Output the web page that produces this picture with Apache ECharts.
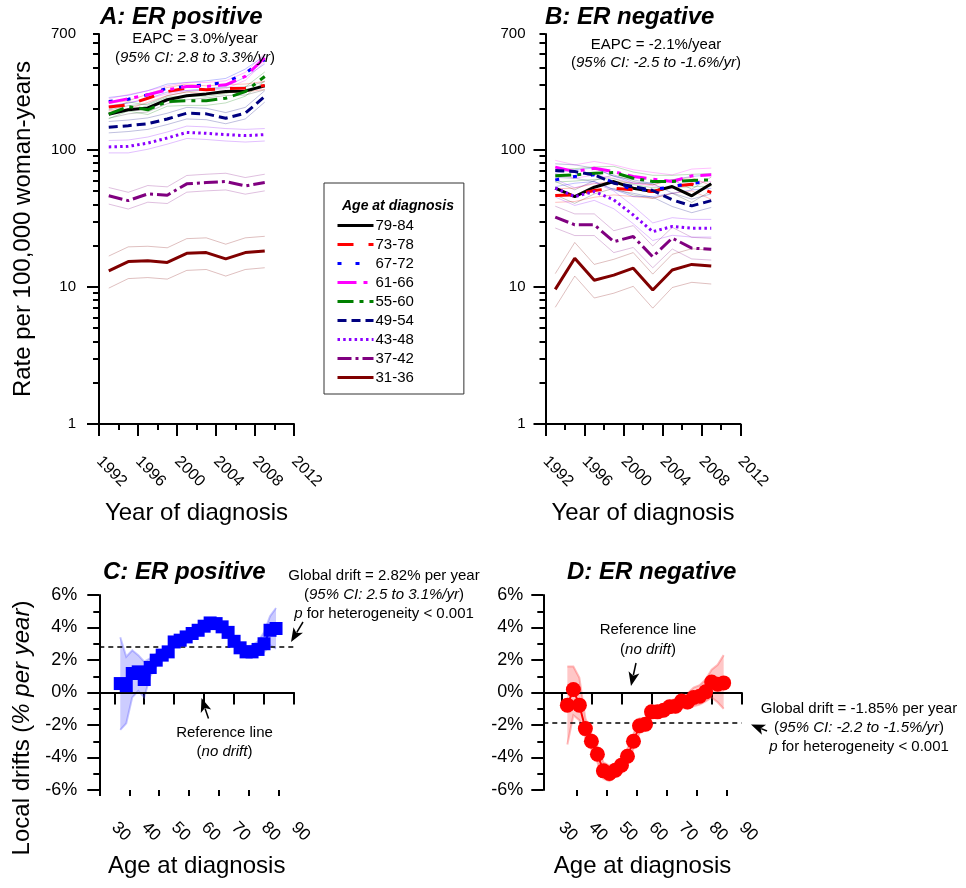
<!DOCTYPE html>
<html><head><meta charset="utf-8">
<script src="https://cdn.jsdelivr.net/npm/echarts@6/dist/echarts.min.js"></script>
<style>html,body{margin:0;padding:0;background:#fff}#c{width:966px;height:888px}</style>
</head><body><div id="c"></div>
<script>
const FONT = 'Liberation Sans, Arial, Helvetica, sans-serif';

// ---------- Panels A & B: incidence by age group (rate per 100,000) ----------
const years = [1993, 1995, 1997, 1999, 2001, 2003, 2005, 2007, 2009];
const ageGroups = ['79-84', '73-78', '67-72', '61-66', '55-60', '49-54', '43-48', '37-42', '31-36'];
const yTickLabels = [1, 10, 100, 700];
const yMajorTicks = [1, 10, 100];
const yMinorTicks = [2, 3, 4, 5, 6, 7, 8, 9, 20, 30, 40, 50, 60, 70, 80, 90, 200, 300, 400, 500, 600, 700];

// ER positive
const A_79_84 = [182, 196, 202, 232, 248, 256, 266, 269, 293];
const A_73_78 = [205, 213, 238, 266, 282, 274, 279, 282, 295];
const A_67_72 = [225, 234, 252, 282, 290, 298, 310, 363, 454];
const A_61_66 = [221, 236, 252, 274, 290, 290, 298, 343, 470];
const A_55_60 = [182, 207, 196, 225, 228, 228, 238, 266, 343];
const A_49_54 = [146, 150, 155, 168, 185, 183, 170, 185, 245];
const A_43_48 = [105, 106, 112, 122, 134, 132, 129, 127, 129];
const A_37_42 = [46.2, 42.6, 47.7, 46.7, 56.5, 57.7, 58.7, 54.6, 57.7];
const A_31_36 = [13.1, 15.3, 15.5, 15.1, 17.6, 17.8, 16.0, 17.8, 18.3];
const A_79_84_hi = [195, 210, 216, 248, 265, 274, 285, 288, 314];
const A_79_84_lo = [170, 183, 189, 217, 232, 239, 249, 251, 274];
const A_73_78_hi = [219, 228, 255, 285, 302, 293, 299, 302, 316];
const A_73_78_lo = [192, 199, 222, 249, 264, 256, 261, 264, 276];
const A_67_72_hi = [241, 250, 270, 302, 310, 319, 332, 388, 486];
const A_67_72_lo = [210, 219, 236, 264, 271, 279, 290, 339, 424];
const A_61_66_hi = [236, 253, 270, 293, 310, 310, 319, 367, 503];
const A_61_66_lo = [207, 221, 236, 256, 271, 271, 279, 321, 439];
const A_55_60_hi = [197, 224, 212, 243, 246, 246, 257, 287, 370];
const A_55_60_lo = [169, 192, 181, 208, 211, 211, 220, 246, 318];
const A_49_54_hi = [161, 165, 171, 185, 204, 201, 187, 204, 270];
const A_49_54_lo = [133, 136, 141, 153, 168, 166, 155, 168, 223];
const A_43_48_hi = [117, 118, 124, 135, 149, 147, 143, 141, 143];
const A_43_48_lo = [95, 95, 101, 110, 121, 119, 116, 114, 116];
const A_37_42_hi = [53.1, 49.0, 54.9, 53.7, 65.0, 66.4, 67.5, 62.8, 66.4];
const A_37_42_lo = [40.2, 37.0, 41.5, 40.6, 49.1, 50.2, 51.0, 47.5, 50.2];
const A_31_36_hi = [16.8, 19.6, 19.8, 19.3, 22.5, 22.8, 20.5, 22.8, 23.4];
const A_31_36_lo = [9.8, 11.5, 11.7, 11.4, 13.2, 13.4, 12.0, 13.4, 13.8];

// ER negative
const B_79_84 = [52.5, 45.6, 53.4, 58.7, 52.5, 49.6, 54.0, 46.2, 56.5];
const B_73_78 = [46.4, 47.0, 50.5, 52.5, 51.1, 49.6, 54.0, 56.2, 48.8];
const B_67_72 = [60.4, 63.9, 65.7, 57.7, 51.1, 51.1, 54.0, 57.1, 58.7];
const B_61_66 = [74.8, 69.4, 73.5, 69.4, 63.9, 61.1, 58.7, 64.6, 65.7];
const B_55_60 = [64.6, 65.7, 67.6, 68.3, 62.1, 58.7, 58.7, 59.7, 60.4];
const B_49_54 = [70.6, 69.4, 65.7, 57.1, 54.0, 50.5, 43.2, 39.0, 42.6];
const B_43_48 = [52.5, 45.6, 49.6, 43.2, 33.5, 25.3, 27.6, 26.8, 26.8];
const B_37_42 = [32.3, 28.4, 28.4, 21.4, 23.3, 16.6, 22.7, 19.2, 18.8];
const B_31_36 = [9.6, 16.2, 11.2, 12.2, 13.7, 9.5, 13.3, 14.6, 14.2];
const B_79_84_hi = [58.8, 51.1, 59.8, 65.7, 58.8, 55.6, 60.5, 51.7, 63.3];
const B_79_84_lo = [46.9, 40.7, 47.7, 52.4, 46.9, 44.3, 48.2, 41.3, 50.4];
const B_73_78_hi = [52.0, 52.6, 56.6, 58.8, 57.2, 55.6, 60.5, 62.9, 54.7];
const B_73_78_lo = [41.4, 42.0, 45.1, 46.9, 45.6, 44.3, 48.2, 50.2, 43.6];
const B_67_72_hi = [67.6, 71.6, 73.6, 64.6, 57.2, 57.2, 60.5, 64.0, 65.7];
const B_67_72_lo = [53.9, 57.1, 58.7, 51.5, 45.6, 45.6, 48.2, 51.0, 52.4];
const B_61_66_hi = [83.8, 77.7, 82.3, 77.7, 71.6, 68.4, 65.7, 72.4, 73.6];
const B_61_66_lo = [66.8, 62.0, 65.6, 62.0, 57.1, 54.6, 52.4, 57.7, 58.7];
const B_55_60_hi = [71.7, 72.9, 75.0, 75.8, 68.9, 65.2, 65.2, 66.3, 67.0];
const B_55_60_lo = [58.2, 59.2, 60.9, 61.5, 55.9, 52.9, 52.9, 53.8, 54.4];
const B_49_54_hi = [79.1, 77.7, 73.6, 64.0, 60.5, 56.6, 48.4, 43.7, 47.7];
const B_49_54_lo = [63.0, 62.0, 58.7, 51.0, 48.2, 45.1, 38.6, 34.8, 38.0];
const B_43_48_hi = [60.9, 52.9, 57.5, 50.1, 38.9, 29.3, 32.0, 31.1, 31.1];
const B_43_48_lo = [45.3, 39.3, 42.8, 37.2, 28.9, 21.8, 23.8, 23.1, 23.1];
const B_37_42_hi = [38.8, 34.1, 34.1, 25.7, 28.0, 19.9, 27.2, 23.0, 22.6];
const B_37_42_lo = [26.9, 23.7, 23.7, 17.8, 19.4, 13.8, 18.9, 16.0, 15.7];
const B_31_36_hi = [12.5, 21.1, 14.6, 15.9, 17.8, 12.4, 17.3, 19.0, 18.5];
const B_31_36_lo = [7.1, 12.0, 8.3, 9.0, 10.1, 7.0, 9.9, 10.8, 10.5];

// ---------- Panels C & D: local drifts by age ----------
const ages = [32, 34, 36, 38, 40, 42, 44, 46, 48, 50, 52, 54, 56, 58, 60, 62, 64, 66, 68, 70, 72, 74, 76, 78, 80, 82, 84];
const C_drift = [0.55, 0.42, 1.17, 1.27, 0.8, 1.54, 1.99, 2.3, 2.5, 3.11, 3.22, 3.42, 3.63, 3.83, 4.08, 4.28, 4.24, 4.04, 3.7, 3.15, 2.75, 2.5, 2.5, 2.65, 3.0, 3.83, 3.94];
const C_hi = [3.4, 2.2, 2.6, 2.3, 1.9, 2.1, 2.4, 2.6, 2.8, 3.4, 3.5, 3.7, 3.9, 4.1, 4.35, 4.55, 4.5, 4.3, 4.0, 3.45, 3.05, 2.85, 2.9, 3.15, 3.7, 4.7, 5.2];
const C_lo = [-2.3, -1.9, -0.3, 0.1, -0.3, 1.0, 1.6, 2.0, 2.2, 2.8, 2.95, 3.15, 3.35, 3.55, 3.8, 4.0, 3.95, 3.75, 3.4, 2.9, 2.45, 2.2, 2.15, 2.3, 2.5, 2.9, 2.7];
const D_drift = [-0.78, 0.18, -0.78, -2.22, -3.0, -3.8, -4.82, -4.98, -4.78, -4.47, -3.92, -3.0, -2.05, -1.95, -1.19, -1.19, -1.09, -0.88, -0.84, -0.52, -0.58, -0.31, -0.23, 0.04, 0.65, 0.51, 0.59];
const D_hi = [1.6, 1.6, 0.9, -1.6, -2.5, -3.3, -4.3, -4.5, -4.35, -4.0, -3.45, -2.55, -1.6, -1.55, -0.85, -0.85, -0.7, -0.5, -0.4, -0.05, -0.05, 0.3, 0.45, 0.8, 1.4, 1.7, 2.3];
const D_lo = [-3.2, -1.4, -1.7, -2.8, -3.5, -4.3, -5.3, -5.45, -5.2, -4.95, -4.4, -3.45, -2.5, -2.35, -1.55, -1.55, -1.45, -1.25, -1.25, -0.95, -1.0, -0.85, -0.75, -0.55, -0.3, -0.6, -1.0];
const C_global = 2.82;
const D_global = -1.85;
const driftTicks = [30, 40, 50, 60, 70, 80, 90];
const driftMinorTicksC = [25, 35, 45, 55, 65, 75, 85];
const driftMinorTicksD = [35, 45, 55, 65, 75, 85];

// ---------- styles ----------
const groupStyle = {
  '79-84': { color: '#000000', dash: 'solid' },
  '73-78': { color: '#ff0000', dash: [16, 15] },
  '67-72': { color: '#0000ff', dash: [4, 14] },
  '61-66': { color: '#ff00ff', dash: [19, 7, 4, 7] },
  '55-60': { color: '#008000', dash: [16, 6, 4, 6] },
  '49-54': { color: '#000080', dash: [9, 5] },
  '43-48': { color: '#8b00ff', dash: [2.5, 3.2] },
  '37-42': { color: '#800080', dash: [14, 4, 3, 4] },
  '31-36': { color: '#800000', dash: 'solid' }
};
const ciAlpha = { '79-84': 'rgba(0,0,0,0.22)', '73-78': 'rgba(255,0,0,0.25)', '67-72': 'rgba(0,0,255,0.25)',
  '61-66': 'rgba(255,0,255,0.25)', '55-60': 'rgba(0,128,0,0.25)', '49-54': 'rgba(0,0,128,0.25)',
  '43-48': 'rgba(139,0,255,0.25)', '37-42': 'rgba(128,0,128,0.25)', '31-36': 'rgba(128,0,0,0.25)' };

const A_main = { '79-84': A_79_84, '73-78': A_73_78, '67-72': A_67_72, '61-66': A_61_66, '55-60': A_55_60, '49-54': A_49_54, '43-48': A_43_48, '37-42': A_37_42, '31-36': A_31_36 };
const A_hi = { '79-84': A_79_84_hi, '73-78': A_73_78_hi, '67-72': A_67_72_hi, '61-66': A_61_66_hi, '55-60': A_55_60_hi, '49-54': A_49_54_hi, '43-48': A_43_48_hi, '37-42': A_37_42_hi, '31-36': A_31_36_hi };
const A_lo = { '79-84': A_79_84_lo, '73-78': A_73_78_lo, '67-72': A_67_72_lo, '61-66': A_61_66_lo, '55-60': A_55_60_lo, '49-54': A_49_54_lo, '43-48': A_43_48_lo, '37-42': A_37_42_lo, '31-36': A_31_36_lo };
const B_main = { '79-84': B_79_84, '73-78': B_73_78, '67-72': B_67_72, '61-66': B_61_66, '55-60': B_55_60, '49-54': B_49_54, '43-48': B_43_48, '37-42': B_37_42, '31-36': B_31_36 };
const B_hi = { '79-84': B_79_84_hi, '73-78': B_73_78_hi, '67-72': B_67_72_hi, '61-66': B_61_66_hi, '55-60': B_55_60_hi, '49-54': B_49_54_hi, '43-48': B_43_48_hi, '37-42': B_37_42_hi, '31-36': B_31_36_hi };
const B_lo = { '79-84': B_79_84_lo, '73-78': B_73_78_lo, '67-72': B_67_72_lo, '61-66': B_61_66_lo, '55-60': B_55_60_lo, '49-54': B_49_54_lo, '43-48': B_43_48_lo, '37-42': B_37_42_lo, '31-36': B_31_36_lo };

const LOG_MAX = Math.log10(700);
const lg = v => Math.log10(v);
const toPairs = vals => years.map((y, i) => [y, lg(vals[i])]);

const series = [];
function addPanel(xi, yi, main, hi, lo, tag) {
  ageGroups.forEach(g => {
    [hi[g], lo[g]].forEach((arr, k) => series.push({
      type: 'line', name: tag + g + (k ? ' lo' : ' hi'), xAxisIndex: xi, yAxisIndex: yi,
      data: toPairs(arr), symbol: 'none', silent: true, z: 1,
      lineStyle: { color: ciAlpha[g], width: 1 }
    }));
  });
  ageGroups.forEach(g => series.push({
    type: 'line', name: g, xAxisIndex: xi, yAxisIndex: yi, data: toPairs(main[g]),
    symbol: 'none', z: 3, itemStyle: { color: groupStyle[g].color },
    lineStyle: { color: groupStyle[g].color, width: 3, type: groupStyle[g].dash, cap: 'butt' }
  }));
}
addPanel(0, 0, A_main, A_hi, A_lo, 'A ');
addPanel(1, 1, B_main, B_hi, B_lo, 'B ');

function bandSeries(xi, yi, lo, hi, fill, edge) {
  return {
    type: 'custom', xAxisIndex: xi, yAxisIndex: yi, silent: true, z: 1,
    data: ages.map((a, i) => [a, lo[i], hi[i]]), encode: { x: 0, y: [1, 2] },
    renderItem: function (params, api) {
      if (params.dataIndex !== 0) return null;
      const up = ages.map((a, i) => api.coord([a, hi[i]]));
      const dn = ages.map((a, i) => api.coord([a, lo[i]]));
      return { type: 'group', children: [
        { type: 'polygon', shape: { points: up.concat(dn.slice().reverse()) }, style: { fill: fill, stroke: null } },
        { type: 'polyline', shape: { points: up }, style: { stroke: edge, lineWidth: 2, fill: null } },
        { type: 'polyline', shape: { points: dn }, style: { stroke: edge, lineWidth: 2, fill: null } }
      ] };
    }
  };
}
function refLines(g) {
  return { silent: true, symbol: ['none', 'none'], label: { show: false }, z: 2,
    data: [
      { yAxis: 0, lineStyle: { color: '#000', width: 2, type: 'solid' } },
      { yAxis: g, lineStyle: { color: '#000', width: 1.5, type: [5, 4] } }
    ] };
}
series.push(bandSeries(2, 2, C_lo, C_hi, 'rgba(0,0,255,0.2)', 'rgba(90,90,255,0.35)'));
series.push({ type: 'line', name: 'C drift', xAxisIndex: 2, yAxisIndex: 2, z: 5,
  data: ages.map((a, i) => [a, C_drift[i]]), symbol: 'rect', symbolSize: 13, showSymbol: true,
  itemStyle: { color: '#0000ff' }, lineStyle: { color: '#0000ff', width: 2 }, markLine: refLines(C_global) });
series.push(bandSeries(3, 3, D_lo, D_hi, 'rgba(255,0,0,0.22)', 'rgba(255,80,80,0.38)'));
series.push({ type: 'line', name: 'D drift', xAxisIndex: 3, yAxisIndex: 3, z: 5,
  data: ages.map((a, i) => [a, D_drift[i]]), symbol: 'circle', symbolSize: 15, showSymbol: true,
  itemStyle: { color: '#ff0000' }, lineStyle: { color: '#ff0000', width: 2 }, markLine: refLines(D_global) });

// ---------- axes ----------
const axLine = { lineStyle: { color: '#000', width: 2 } };
const tickStyle = { color: '#000', width: 2 };
const nameStyle = { fontSize: 24, fontFamily: FONT, color: '#000' };
function yearAxis(gi, name) {
  return { gridIndex: gi, type: 'value', min: 1992, max: 2012, interval: 4,
    axisLine: axLine, axisTick: { length: 12, lineStyle: tickStyle },
    minorTick: { show: true, splitNumber: 2, length: 6, lineStyle: tickStyle },
    splitLine: { show: false }, minorSplitLine: { show: false },
    axisLabel: { rotate: -45, margin: 35, fontSize: 16, fontFamily: FONT, color: '#000', formatter: v => String(v) },
    name: name, nameLocation: 'middle', nameGap: 77, nameTextStyle: nameStyle };
}
function rateAxis(gi, name, margin) {
  return { gridIndex: gi, type: 'value', min: 0, max: LOG_MAX, position: 'left',
    axisLine: axLine, axisTick: { length: 12, lineStyle: tickStyle, customValues: yMajorTicks.map(lg) },
    splitLine: { show: false },
    axisLabel: { customValues: yTickLabels.map(lg), margin: margin, fontSize: 15, fontFamily: FONT, color: '#000',
      formatter: v => String(Math.round(Math.pow(10, v))) },
    name: name, nameLocation: 'middle', nameGap: 64, nameTextStyle: nameStyle };
}
function rateMinorAxis(gi) {
  return { gridIndex: gi, type: 'value', min: 0, max: LOG_MAX, position: 'left', offset: 0,
    axisLine: { show: false }, axisLabel: { show: false }, splitLine: { show: false },
    axisTick: { length: 6, lineStyle: tickStyle, customValues: yMinorTicks.map(lg) } };
}
function ageAxis(gi, min, name) {
  return { gridIndex: gi, type: 'value', min: min, max: 90,
    axisLine: axLine, axisTick: { length: 12, lineStyle: tickStyle, customValues: driftTicks },
    splitLine: { show: false },
    axisLabel: { customValues: driftTicks, rotate: -45, margin: 35, fontSize: 17, fontFamily: FONT, color: '#000' },
    name: name, nameLocation: 'middle', nameGap: 64, nameTextStyle: nameStyle };
}
function ageMinorAxis(gi, min, ticks) {
  return { gridIndex: gi, type: 'value', min: min, max: 90, position: 'bottom', offset: 0,
    axisLine: { show: false }, axisLabel: { show: false }, splitLine: { show: false },
    axisTick: { length: 6, lineStyle: tickStyle, customValues: ticks } };
}
function driftAxis(gi, margin) {
  return { gridIndex: gi, type: 'value', min: -6, max: 6, interval: 2,
    axisLine: axLine, axisTick: { length: 12, lineStyle: tickStyle },
    minorTick: { show: true, splitNumber: 2, length: 6, lineStyle: tickStyle },
    splitLine: { show: false }, minorSplitLine: { show: false },
    axisLabel: { margin: margin, fontSize: 18, fontFamily: FONT, color: '#000', formatter: '{value}%' } };
}

// ---------- annotations ----------
const rich = fs => ({
  n: { fontSize: fs, fontFamily: FONT, fill: '#000', color: '#000' },
  i: { fontSize: fs, fontFamily: FONT, fill: '#000', color: '#000', fontStyle: 'italic' },
  t: { fontSize: 24, fontFamily: FONT, fill: '#000', color: '#000', fontStyle: 'italic', fontWeight: 'bold' },
  h: { fontSize: 14, fontFamily: FONT, fill: '#000', color: '#000', fontStyle: 'italic', fontWeight: 'bold' }
});
function txt(x, y, text, align, fs, rot) {
  return { type: 'text', x: x, y: y, rotation: rot || 0, silent: true, z: 10,
    style: { text: text, fontSize: fs || 15, fontFamily: FONT, fill: '#000', align: align || 'center', verticalAlign: 'middle', rich: rich(fs || 15) } };
}
function arrow(x1, y1, x2, y2) {
  const ang = Math.atan2(y2 - y1, x2 - x1), L = 14, W = 5.5;
  const c = Math.cos(ang), s = Math.sin(ang);
  const bx = x2 - L * c, by = y2 - L * s;
  const px = -s * W, py = c * W;
  return [
    { type: 'line', silent: true, z: 10, shape: { x1: x1, y1: y1, x2: bx + 3 * c, y2: by + 3 * s }, style: { stroke: '#000', lineWidth: 1.5 } },
    { type: 'polygon', silent: true, z: 10, shape: { points: [[x2, y2], [bx + px, by + py], [bx + 0.25 * L * c, by + 0.25 * L * s], [bx - px, by - py]] }, style: { fill: '#000' } }
  ];
}
const graphics = [
  txt(100, 17, '{t|A: ER positive}', 'left'),
  txt(545, 17, '{t|B: ER negative}', 'left'),
  txt(103, 572, '{t|C: ER positive}', 'left'),
  txt(567, 572, '{t|D: ER negative}', 'left'),
  txt(195, 39, '{n|EAPC = 3.0%/year}'),
  txt(195, 58, '{n|(}{i|95% CI: 2.8 to 3.3%/yr}{n|)}'),
  txt(656, 45, '{n|EAPC = -2.1%/year}'),
  txt(656, 63, '{n|(}{i|95% CI: -2.5 to -1.6%/yr}{n|)}'),
  txt(398, 206, '{h|Age at diagnosis}'),
  txt(384, 576, '{n|Global drift = 2.82% per year}'),
  txt(384, 595, '{n|(}{i|95% CI: 2.5 to 3.1%/yr}{n|)}'),
  txt(384, 614, '{i|p}{n| for heterogeneity < 0.001}'),
  txt(224.5, 733, '{n|Reference line}'),
  txt(224.5, 752, '{n|(}{i|no drift}{n|)}'),
  txt(648, 630, '{n|Reference line}'),
  txt(648, 650, '{n|(}{i|no drift}{n|)}'),
  txt(859, 709, '{n|Global drift = -1.85% per year}'),
  txt(859, 728, '{n|(}{i|95% CI: -2.2 to -1.5%/yr}{n|)}'),
  txt(859, 747, '{i|p}{n| for heterogeneity < 0.001}'),
  (function () {
    const t = txt(22, 728, '{a|Local drifts (}{b|% per year}{a|)}', 'center', 24, Math.PI / 2);
    t.style.rich.a = { fontSize: 24, fontFamily: FONT, fill: '#000' };
    t.style.rich.b = { fontSize: 24, fontFamily: FONT, fill: '#000', fontStyle: 'italic' };
    return t;
  })()
].concat(
  arrow(303, 622, 291, 642),
  arrow(208.5, 718.5, 201.5, 698),
  arrow(636, 663, 631, 686),
  arrow(767, 731, 751, 724.5)
);

const option = {
  animation: false,
  backgroundColor: '#ffffff',
  textStyle: { fontFamily: FONT },
  grid: [
    { left: 99, top: 34, width: 195, height: 390, containLabel: false, outerBoundsMode: 'none' },
    { left: 545.5, top: 34, width: 195, height: 390, containLabel: false, outerBoundsMode: 'none' },
    { left: 99.3, top: 595, width: 194.7, height: 195, containLabel: false, outerBoundsMode: 'none' },
    { left: 543.3, top: 595, width: 198.4, height: 195, containLabel: false, outerBoundsMode: 'none' }
  ],
  xAxis: [
    yearAxis(0, 'Year of diagnosis'),
    yearAxis(1, 'Year of diagnosis'),
    ageAxis(2, 25, 'Age at diagnosis'),
    ageAxis(3, 24, 'Age at diagnosis'),
    ageMinorAxis(2, 25, driftMinorTicksC),
    ageMinorAxis(3, 24, driftMinorTicksD)
  ],
  yAxis: [
    rateAxis(0, 'Rate per 100,000 woman-years', 23),
    rateAxis(1, '', 20),
    driftAxis(2, 22),
    driftAxis(3, 20),
    rateMinorAxis(0),
    rateMinorAxis(1)
  ],
  legend: {
    data: ageGroups, orient: 'vertical', left: 324, top: 183,
    padding: [35, 50, 9, 12], itemWidth: 36, itemHeight: 14, itemGap: 4,
    borderColor: '#333', borderWidth: 1, backgroundColor: '#fff',
    selectedMode: false,
    itemStyle: { opacity: 0 },
    lineStyle: { width: 3 },
    textStyle: { fontSize: 15, fontFamily: FONT, color: '#000', padding: [0, 0, 0, -3] }
  },
  graphic: graphics,
  series: series
};
const chart = echarts.init(document.getElementById('c'));
chart.setOption(option);
</script>
</body></html>
